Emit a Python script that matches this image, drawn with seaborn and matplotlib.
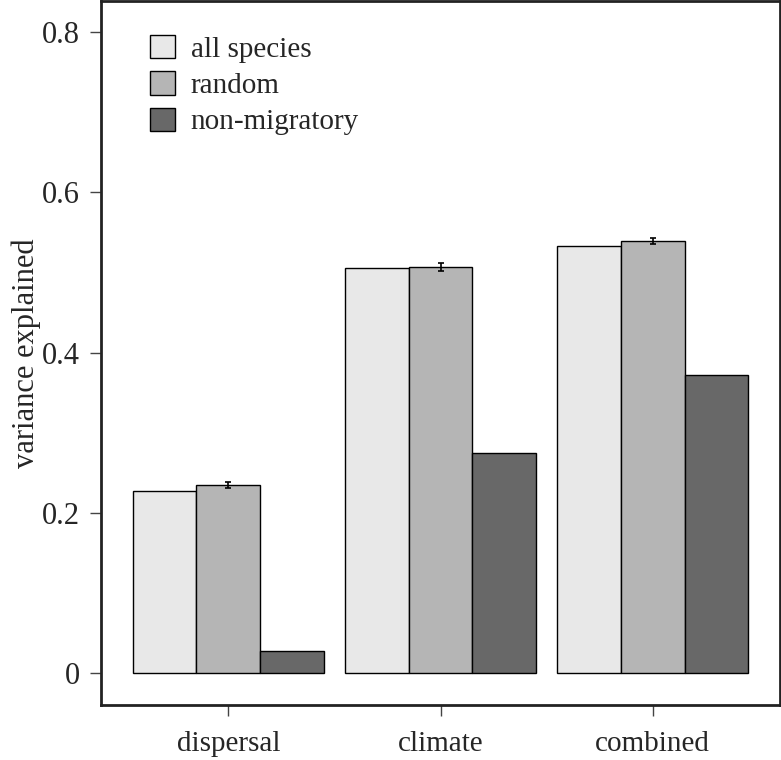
import pandas as pd
import seaborn as sns
import matplotlib.pyplot as plt

# values
categories = ['dispersal', 'climate', 'combined']
groups = ['all species', 'random', 'non-migratory']
all_species = [0.227, 0.505, 0.533]
random_sets = [0.235, 0.507, 0.539]
non_migratory = [0.028, 0.275, 0.372]
random_err = [0.004, 0.005, 0.004]
colours = ['#e8e8e8', '#b5b5b5', '#686868']

df = pd.DataFrame({
    'predictor': categories * 3,
    'group': [g for g in groups for _ in categories],
    'variance': all_species + random_sets + non_migratory,
})

sns.set_style('ticks')
plt.rcParams['font.family'] = ['Liberation Serif', 'DejaVu Serif']

fig = plt.figure(figsize=(7.81, 7.6), dpi=100)
ax = fig.add_axes([0.1293, 0.0724, 0.8695, 0.9263])

sns.barplot(data=df, x='predictor', y='variance', hue='group',
            order=categories, hue_order=groups, palette=colours,
            width=0.9, gap=0, edgecolor='black', linewidth=1,
            errorbar=None, saturation=1, ax=ax)

# error bars on the random-subset bars
bars = ax.containers[1]
xs = [b.get_x() + b.get_width() / 2 for b in bars]
ax.errorbar(xs, random_sets, yerr=random_err, fmt='none', ecolor='black',
            elinewidth=1.2, capsize=2.5, capthick=1.2, zorder=5)

ax.set_xlim(-0.6, 2.6)
ax.set_ylim(-0.04, 0.839)
ax.set_yticks([0, 0.2, 0.4, 0.6, 0.8])
ax.set_yticklabels(['0', '0.2', '0.4', '0.6', '0.8'])
ax.set_xlabel('')
ax.set_ylabel('variance explained', fontsize=22, labelpad=1)
ax.tick_params(axis='both', width=1, length=8, color='#444444')
ax.tick_params(axis='x', labelsize=21, pad=11)
ax.tick_params(axis='y', labelsize=22, pad=7)
for s in ax.spines.values():
    s.set_visible(True)
    s.set_linewidth(2)
    s.set_color('#222222')

handles, labels = ax.get_legend_handles_labels()
ax.legend(handles=handles, labels=labels, loc='upper left',
          bbox_to_anchor=(0.055, 0.968), frameon=False, fontsize=21,
          handlelength=0.85, handleheight=0.85, handletextpad=0.55,
          labelspacing=0.29, borderaxespad=0)

fig.savefig('out.png', dpi=100)
